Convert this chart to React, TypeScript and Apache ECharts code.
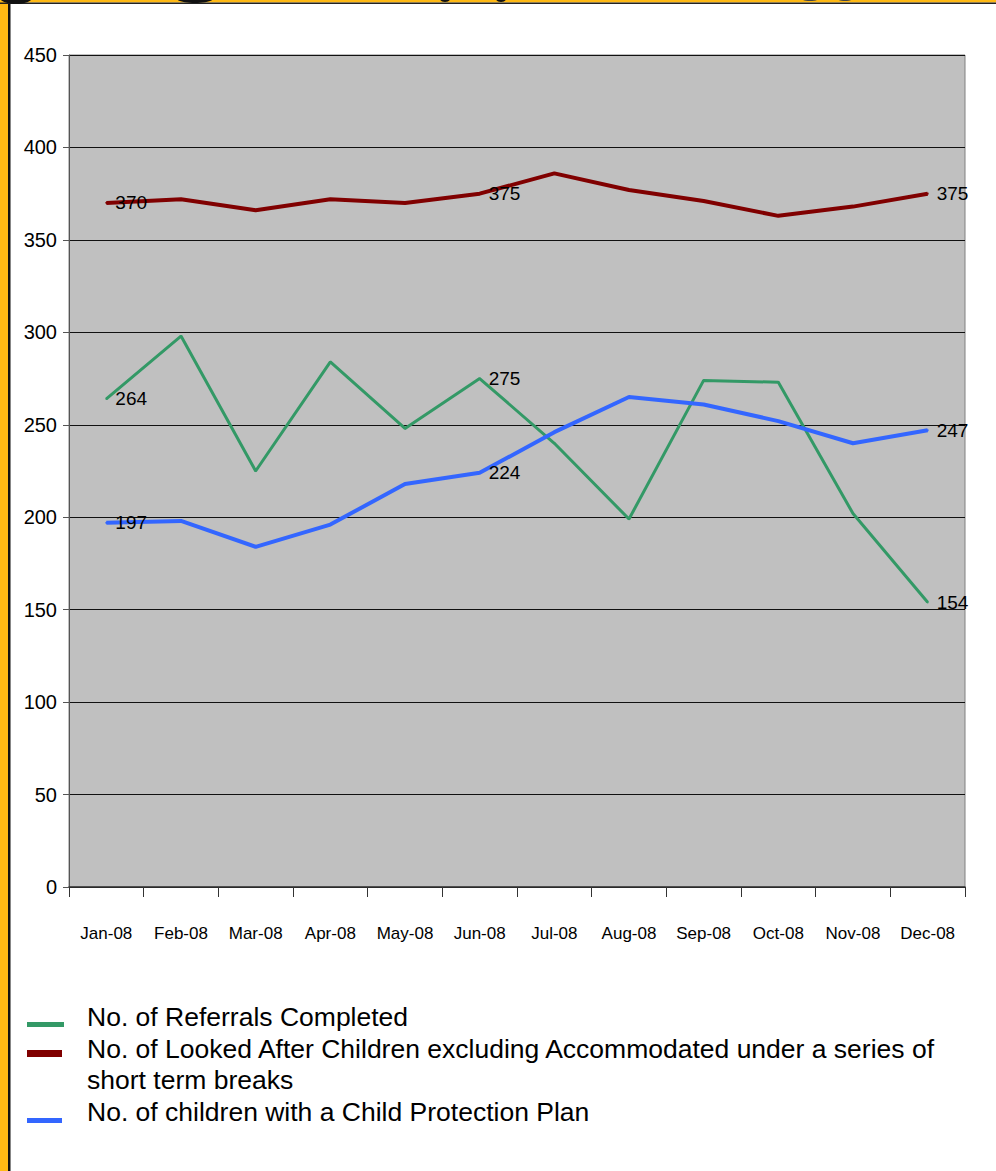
import React, { useEffect, useRef } from "react";
import * as echarts from "echarts";

const categories = ["Jan-08", "Feb-08", "Mar-08", "Apr-08", "May-08", "Jun-08", "Jul-08", "Aug-08", "Sep-08", "Oct-08", "Nov-08", "Dec-08"];
const referrals = [264, 298, 225, 284, 248, 275, 240, 199, 274, 273, 202, 154];
const lookedAfter = [370, 372, 366, 372, 370, 375, 386, 377, 371, 363, 368, 375];
const protectionPlan = [197, 198, 184, 196, 218, 224, 246, 265, 261, 252, 240, 247];
const labelledIdx = [0, 5, 11];
const seriesNames = [
  "No. of Referrals Completed",
  "No. of Looked After Children excluding Accommodated under a series of",
  "short term breaks",
  "No. of children with a Child Protection Plan",
];

const NARROW = "'Liberation Sans Narrow', 'Arial Narrow', 'Liberation Sans', Arial, sans-serif";
const SANS = "'Liberation Sans', Arial, sans-serif";

function withLabels(values: number[]) {
  return values.map((v, i) =>
    labelledIdx.includes(i) ? { value: v, label: { show: true } } : v
  );
}

export default function App() {
  const ref = useRef<HTMLDivElement>(null);
  useEffect(() => {
    if (!ref.current) return;
    const chart = echarts.init(ref.current, undefined, { renderer: "svg" });
    const labelStyle = {
      show: false,
      position: "right" as const,
      distance: 8,
      color: "#000",
      fontFamily: NARROW,
      fontSize: 19,
    };
    const mk = (name: string, values: number[], color: string, width: number) => ({
      name,
      type: "line",
      data: withLabels(values),
      symbol: "circle",
      symbolSize: 2,
      showSymbol: true,
      lineStyle: { color, width },
      itemStyle: { color },
      label: labelStyle,
      z: 3,
    });
    chart.setOption({
      animation: false,
      backgroundColor: "#ffffff",
      grid: {
        left: 69,
        right: 31,
        top: 55,
        bottom: 284,
        show: true,
        backgroundColor: "#c0c0c0",
        borderColor: "#808080",
        borderWidth: 1,
      },
      xAxis: {
        type: "category",
        data: categories,
        boundaryGap: true,
        axisLine: { show: true, lineStyle: { color: "#333", width: 1.5 } },
        axisTick: { show: true, interval: 0, length: 10, lineStyle: { color: "#333" }, alignWithLabel: false },
        axisLabel: { interval: 0, color: "#000", fontFamily: NARROW, fontSize: 17, margin: 38 },
      },
      yAxis: {
        type: "value",
        min: 0,
        max: 450,
        interval: 50,
        axisLine: { show: true, lineStyle: { color: "#555", width: 1 } },
        axisTick: { show: true, length: 6, lineStyle: { color: "#555" } },
        axisLabel: { color: "#000", fontFamily: NARROW, fontSize: 20, margin: 12 },
        splitLine: { show: true, lineStyle: { color: "#111", width: 1 } },
      },
      series: [
        mk(seriesNames[0], referrals, "#339966", 3),
        mk(seriesNames[1] + " " + seriesNames[2], lookedAfter, "#800000", 4),
        mk(seriesNames[3], protectionPlan, "#3366ff", 4),
      ],
      graphic: [
        { type: "rect", shape: { x: 0, y: 0, width: 8, height: 1171 }, style: { fill: "#ffb914" }, silent: true },
        { type: "rect", shape: { x: 8, y: 3, width: 2.5, height: 1168 }, style: { fill: "#111" }, silent: true },
        { type: "rect", shape: { x: 0, y: 0, width: 996, height: 2.5 }, style: { fill: "#ffb914" }, silent: true },
        { type: "rect", shape: { x: 0, y: 2.5, width: 996, height: 1.5 }, style: { fill: "#222" }, silent: true },
        { type: "ellipse", shape: { cx: 16, cy: -2, rx: 16, ry: 6 }, style: { fill: "#111" }, silent: true },
        { type: "ellipse", shape: { cx: 195, cy: -3, rx: 20, ry: 6 }, style: { fill: "#111" }, silent: true },
        { type: "ellipse", shape: { cx: 445, cy: -1, rx: 5, ry: 3 }, style: { fill: "#111" }, silent: true },
        { type: "ellipse", shape: { cx: 501, cy: -1, rx: 5, ry: 3 }, style: { fill: "#111" }, silent: true },
        { type: "ellipse", shape: { cx: 810, cy: -1, rx: 8, ry: 2 }, style: { fill: "#444" }, silent: true },
        { type: "ellipse", shape: { cx: 845, cy: -1, rx: 7, ry: 2 }, style: { fill: "#444" }, silent: true },
        { type: "rect", shape: { x: 27, y: 1022, width: 37, height: 5 }, style: { fill: "#339966" } },
        { type: "rect", shape: { x: 27, y: 1050, width: 35, height: 7 }, style: { fill: "#800000" } },
        { type: "rect", shape: { x: 27, y: 1118, width: 35, height: 5 }, style: { fill: "#3366ff" } },
        { type: "text", x: 87, y: 1017, style: { text: seriesNames[0], fill: "#000", font: `26.5px ${SANS}`, textVerticalAlign: "middle" } },
        { type: "text", x: 87, y: 1049, style: { text: seriesNames[1], fill: "#000", font: `26.5px ${SANS}`, textVerticalAlign: "middle" } },
        { type: "text", x: 87, y: 1080, style: { text: seriesNames[2], fill: "#000", font: `26.5px ${SANS}`, textVerticalAlign: "middle" } },
        { type: "text", x: 87, y: 1112, style: { text: seriesNames[3], fill: "#000", font: `26.5px ${SANS}`, textVerticalAlign: "middle" } },
      ],
    });
    return () => chart.dispose();
  }, []);
  return (
    <div
      ref={ref}
      style={{ position: "fixed", left: 0, top: 0, width: 996, height: 1171 }}
    />
  );
}
